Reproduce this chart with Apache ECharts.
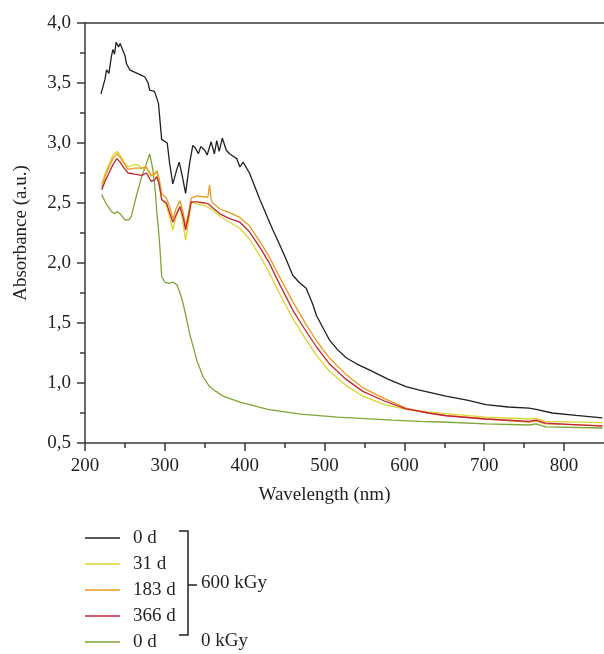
<!DOCTYPE html>
<html>
<head>
<meta charset="utf-8">
<script src="https://cdn.jsdelivr.net/npm/echarts@6/dist/echarts.min.js"></script>
<style>
html,body{margin:0;padding:0;background:#fff;}
#chart{width:604px;height:654px;}
</style>
</head>
<body>
<div id="chart"></div>
<script>
// ---- Data (wavelength in nm, absorbance in a.u.) ----
const seriesNames = ['0 d', '31 d', '183 d', '366 d', '0 d '];

const wl_0d600 = [220,225,227,230,233,235,237,239,242,244,246,250,252,256,262,269,275,279,281,287,292,296,303,306,310,315,318,322,326,331,335,338,342,345,350,353,358,362,365,368,372,377,381,390,394,398,406,419,435,444,452,460,468,477,485,490,498,506,516,527,540,556,580,602,619,652,680,702,730,756,765,785,815,848];
const abs_0d600 = [3.41,3.53,3.61,3.58,3.72,3.78,3.74,3.84,3.80,3.83,3.82,3.73,3.66,3.61,3.59,3.57,3.55,3.50,3.44,3.43,3.33,3.03,3.00,2.83,2.66,2.78,2.84,2.72,2.58,2.83,2.98,2.96,2.91,2.97,2.94,2.90,3.01,2.91,3.02,2.93,3.04,2.94,2.91,2.87,2.80,2.84,2.75,2.53,2.28,2.15,2.03,1.90,1.84,1.79,1.66,1.56,1.46,1.36,1.28,1.21,1.16,1.11,1.03,0.97,0.94,0.89,0.855,0.82,0.80,0.79,0.78,0.75,0.73,0.71];

const wl_31d = [221,225,230,235,240,244,249,254,262,266,271,277,283,287,290,293,296,302,306,310,314,319,323,326,330,333,340,350,360,369,381,394,406,419,430,444,460,475,490,506,527,548,575,602,630,652,702,756,765,777,848];
const abs_31d = [2.66,2.74,2.82,2.90,2.93,2.90,2.84,2.80,2.82,2.82,2.79,2.79,2.72,2.74,2.76,2.67,2.53,2.48,2.38,2.275,2.38,2.47,2.32,2.19,2.35,2.51,2.49,2.48,2.44,2.39,2.34,2.29,2.20,2.06,1.93,1.74,1.54,1.38,1.23,1.10,0.98,0.89,0.82,0.78,0.76,0.745,0.715,0.70,0.705,0.68,0.67];

const wl_183d = [221,225,230,235,240,244,249,254,262,271,277,283,287,290,293,296,302,306,310,314,319,323,326,330,333,340,350,354,356,358,360,369,381,394,406,419,430,444,460,475,490,506,527,548,575,602,630,652,702,756,765,777,848];
const abs_183d = [2.63,2.72,2.80,2.87,2.91,2.88,2.83,2.78,2.79,2.79,2.80,2.73,2.74,2.77,2.70,2.58,2.54,2.47,2.37,2.45,2.52,2.42,2.30,2.43,2.54,2.56,2.55,2.55,2.65,2.53,2.50,2.45,2.42,2.38,2.31,2.18,2.06,1.88,1.68,1.51,1.35,1.21,1.07,0.96,0.87,0.79,0.75,0.73,0.70,0.675,0.685,0.66,0.645];

const wl_366d = [221,225,230,235,240,244,249,254,262,271,277,283,287,290,293,296,302,306,310,314,319,323,326,330,333,340,350,355,360,369,381,394,406,419,430,444,460,475,490,506,527,548,575,602,630,652,702,756,765,777,848];
const abs_366d = [2.61,2.68,2.75,2.82,2.87,2.84,2.79,2.75,2.74,2.73,2.75,2.68,2.69,2.72,2.65,2.53,2.50,2.42,2.34,2.40,2.47,2.38,2.275,2.40,2.51,2.51,2.50,2.49,2.46,2.41,2.37,2.34,2.26,2.13,2.01,1.82,1.61,1.45,1.30,1.16,1.03,0.93,0.85,0.785,0.75,0.727,0.70,0.68,0.69,0.665,0.64];

const wl_0d0 = [221,226,233,237,240,244,250,255,258,264,271,277,281,285,288,290,292,294,296,300,305,310,315,319,323,327,331,336,340,348,356,364,373,394,429,470,516,585,619,646,702,756,765,777,848];
const abs_0d0 = [2.57,2.50,2.43,2.41,2.43,2.41,2.36,2.36,2.39,2.55,2.72,2.83,2.91,2.78,2.60,2.42,2.28,2.11,1.89,1.84,1.83,1.84,1.82,1.75,1.66,1.54,1.41,1.29,1.19,1.05,0.97,0.93,0.89,0.84,0.78,0.74,0.715,0.69,0.68,0.675,0.66,0.65,0.66,0.635,0.625];

const xTicks = [200,300,400,500,600,700,800];
const yTicks = [0.5,1.0,1.5,2.0,2.5,3.0,3.5,4.0];

const colors = ['#231f20', '#dcd62c', '#eb9a1e', '#c4243a', '#7ea634'];
const FONT = 'Liberation Serif';

function pairs(xs, ys){ return xs.map((x,i)=>[x, ys[i]]); }
const allData = [
  pairs(wl_0d600, abs_0d600),
  pairs(wl_31d, abs_31d),
  pairs(wl_183d, abs_183d),
  pairs(wl_366d, abs_366d),
  pairs(wl_0d0, abs_0d0)
];
const drawOrder = [4,0,1,2,3];
const LINE_ICON = 'path://M0,0 L35,0 L35,1.4 L0,1.4 Z';

const chart = echarts.init(document.getElementById('chart'), null, {renderer:'canvas'});
const axisCol = '#3a3a3a';

const option = {
  backgroundColor: '#ffffff',
  animation: false,
  grid: {left: 85, top: 23, right: 0, bottom: 211, containLabel: false},
  legend: {
    orient: 'vertical',
    left: 85,
    top: 527,
    padding: 0,
    itemWidth: 35,
    itemHeight: 14,
    itemGap: 4,
    selectedMode: false,
    data: seriesNames.map((n,i)=>({name:n, icon: LINE_ICON, itemStyle:{color:colors[i], borderWidth:0}})),
    formatter: n => n.trim(),
    textStyle: {fontFamily: FONT, fontSize: 19, lineHeight: 22, color: '#231f20', padding: [0,0,0,8]}
  },
  xAxis: [{
    type: 'value', min: 200, max: 850, interval: 100,
    axisLine: {show: true, onZero: false, lineStyle: {color: axisCol, width: 1.5}},
    axisTick: {show: true, length: 8, inside: false, lineStyle: {color: axisCol, width: 1.5},
      customValues: xTicks},
    minorTick: {show: true, splitNumber: 2, length: 5, lineStyle: {color: axisCol, width: 1.5}},
    axisLabel: {fontFamily: FONT, fontSize: 19, color: '#231f20', margin: 14, customValues: xTicks},
    splitLine: {show: false},
    name: 'Wavelength (nm)', nameLocation: 'middle', nameGap: 43,
    nameTextStyle: {fontFamily: FONT, fontSize: 19, color: '#231f20', padding: [0, 40, 0, 0]}
  }, {
    type: 'value', min: 200, max: 850, position: 'top',
    axisLine: {show: true, onZero: false, lineStyle: {color: axisCol, width: 1.5}},
    axisTick: {show: false}, axisLabel: {show: false}, splitLine: {show: false}
  }],
  yAxis: {
    type: 'value', min: 0.5, max: 4.0, interval: 0.5,
    axisLine: {show: true, onZero: false, lineStyle: {color: axisCol, width: 1.5}},
    axisTick: {show: true, length: 8, lineStyle: {color: axisCol, width: 1.5}},
    minorTick: {show: true, splitNumber: 2, length: 5, lineStyle: {color: axisCol, width: 1.5}},
    axisLabel: {fontFamily: FONT, fontSize: 19, color: '#231f20', margin: 14,
      formatter: v => v.toFixed(1).replace('.', ',')},
    splitLine: {show: false},
    name: 'Absorbance (a.u.)', nameLocation: 'middle', nameGap: 54, nameRotate: 90,
    nameTextStyle: {fontFamily: FONT, fontSize: 19, color: '#231f20'}
  },
  series: drawOrder.map(i => ({
    name: seriesNames[i], type: 'line', data: allData[i], xAxisIndex: 0,
    symbol: 'none', showSymbol: false, smooth: false,
    lineStyle: {color: colors[i], width: 1.3},
    itemStyle: {color: colors[i]},
    z: 2
  })),
  graphic: [
    {type: 'polyline', shape: {points: [[179,531],[188,531],[188,635],[179,635]]},
      style: {stroke: '#231f20', lineWidth: 1.5, fill: null}},
    {type: 'line', shape: {x1: 188, y1: 585, x2: 197, y2: 585},
      style: {stroke: '#231f20', lineWidth: 1.5}},
    {type: 'text', left: 201, top: 574,
      style: {text: '600 kGy', fontFamily: FONT, fontSize: 19, fill: '#231f20'}},
    {type: 'text', left: 201, top: 632,
      style: {text: '0 kGy', fontFamily: FONT, fontSize: 19, fill: '#231f20'}}
  ]
};
chart.setOption(option);
</script>
</body>
</html>
